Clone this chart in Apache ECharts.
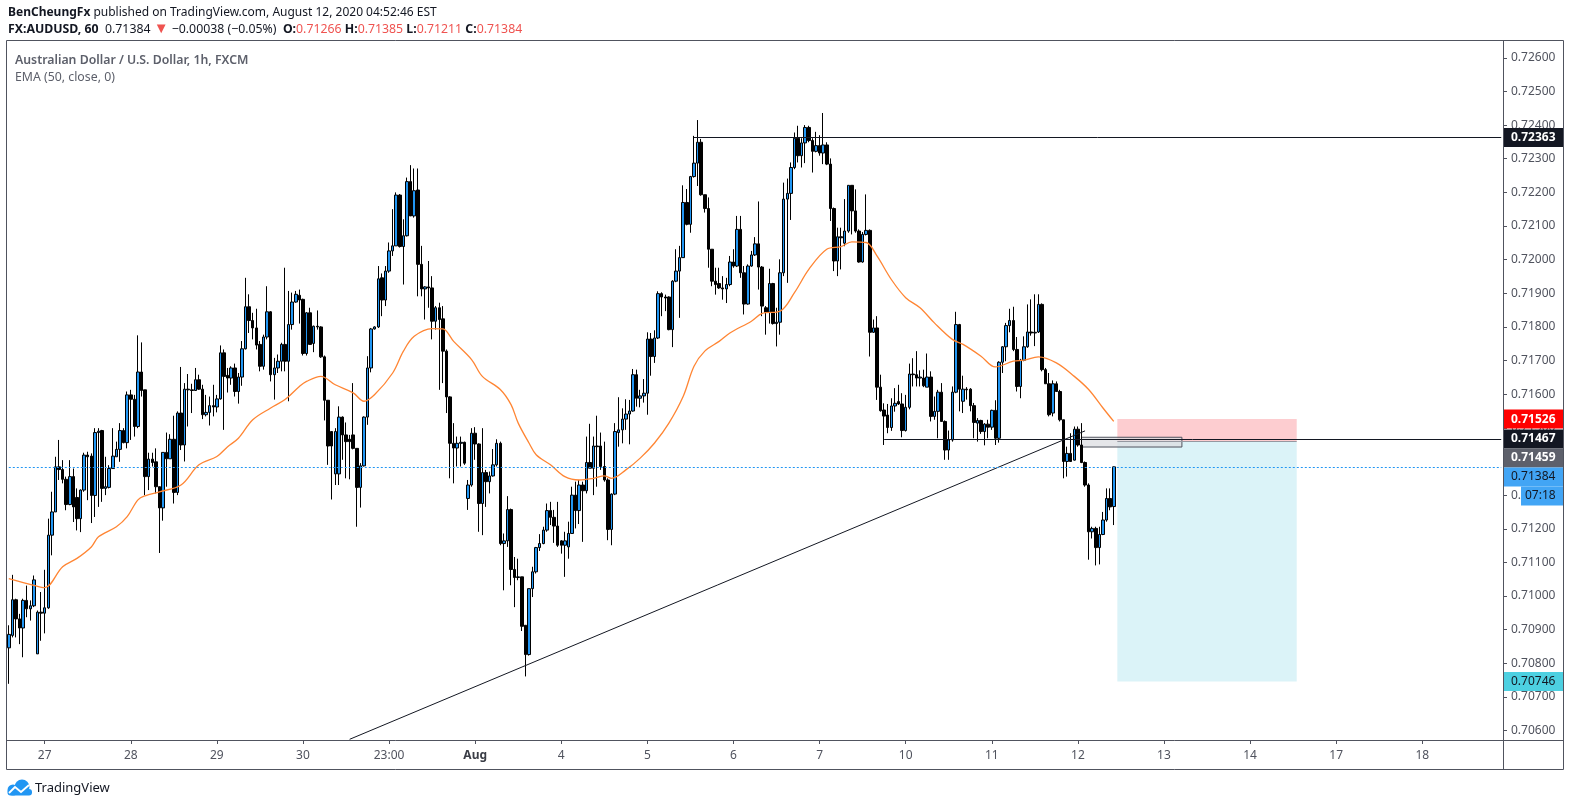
<!DOCTYPE html>
<html>
<head>
<meta charset="utf-8">
<title>AUDUSD 1h</title>
<script src="https://cdn.jsdelivr.net/npm/echarts@6/dist/echarts.min.js"></script>
<style>
html, body { margin: 0; padding: 0; background: #ffffff; }
#main { width: 1570px; height: 806px; }
</style>
</head>
<body>
<div id="main"></div>
<script>
// AUDUSD hourly candles (27 Jul - 12 Aug 2020)
var opens = [
.70846,.70883,.70989,.70932,.70905,.70987,.70962,.70971,.70828,.70952,
.70949,.70965,.71181,.71250,.71384,.71376,.71347,.71272,.71355,.71293,
.71230,.71315,.71419,.71416,.71299,.71486,.71492,.71320,.71323,.71379,
.71414,.71436,.71492,.71456,.71598,.71585,.71504,.71666,.71613,.71355,
.71407,.71399,.71325,.71262,.71427,.71408,.71466,.71308,.71544,.71449,
.71615,.71613,.71611,.71643,.71615,.71539,.71546,.71566,.71562,.71586,
.71723,.71656,.71648,.71678,.71608,.71651,.71735,.71860,.71819,.71797,
.71748,.71683,.71770,.71845,.71658,.71678,.71698,.71748,.71698,.71807,
.71874,.71894,.71882,.71721,.71842,.71751,.71802,.71800,.71711,.71582,
.71489,.71363,.71363,.71532,.71479,.71466,.71479,.71439,.71323,.71387,
.71532,.71678,.71794,.71800,.71946,.71880,.71966,.72026,.72041,.72192,
.72039,.72071,.72232,.72130,.72207,.71986,.71913,.71919,.71916,.71817,
.71857,.71824,.71728,.71592,.71454,.71440,.71454,.71457,.71290,.71330,
.71484,.71452,.71275,.71367,.71340,.71357,.71390,.71454,.71156,.71164,
.71257,.71079,.71055,.71057,.70913,.70826,.71022,.71072,.71144,.71156,
.71196,.71254,.71234,.71208,.71164,.71151,.71146,.71186,.71300,.71254,
.71330,.71313,.71397,.71380,.71446,.71446,.71385,.71345,.71198,.71303,
.71486,.71494,.71526,.71541,.71550,.71658,.71588,.71595,.71603,.71764,
.71712,.71767,.71899,.71889,.71889,.71792,.71936,.71966,.72006,.72170,
.72105,.72247,.72287,.72349,.72193,.72152,.72031,.71936,.71929,.71916,
.71913,.71926,.71993,.71981,.72090,.71961,.71868,.71981,.72014,.72047,
.71978,.71857,.71844,.71929,.71810,.71814,.71961,.72180,.72197,.72274,
.72361,.72309,.72347,.72393,.72354,.72322,.72339,.72317,.72341,.72284,
.72152,.71996,.72068,.72049,.72085,.72221,.72145,.72085,.71993,.72075,
.72087,.71784,.71797,.71621,.71553,.71538,.71501,.71565,.71578,.71571,
.71492,.71561,.71660,.71658,.71648,.71648,.71621,.71651,.71534,.71549,
.71606,.71519,.71434,.71464,.71606,.71807,.71579,.71615,.71615,.71566,
.71514,.71522,.71489,.71511,.71502,.71552,.71469,.71695,.71741,.71804,
.71819,.71733,.71623,.71701,.71741,.71785,.71782,.71785,.71867,.71673,
.71631,.71544,.71631,.71608,.71524,.71400,.71424,.71404,.71496,.71449,
.71397,.71330,.71191,.71201,.71144,.71183,.71226,.71290,.71266
];
var closes = [
.70886,.70989,.70932,.70905,.70987,.70962,.70971,.71048,.70952,.70949,
.70965,.71181,.71250,.71384,.71376,.71347,.71272,.71355,.71265,.71230,
.71315,.71419,.71414,.71299,.71486,.71490,.71320,.71325,.71379,.71416,
.71436,.71492,.71456,.71598,.71585,.71504,.71666,.71611,.71355,.71407,
.71397,.71325,.71262,.71427,.71408,.71466,.71308,.71544,.71449,.71615,
.71613,.71611,.71643,.71615,.71539,.71546,.71566,.71562,.71586,.71723,
.71653,.71648,.71678,.71608,.71651,.71735,.71860,.71819,.71797,.71746,
.71683,.71770,.71845,.71658,.71678,.71698,.71748,.71698,.71807,.71874,
.71897,.71880,.71721,.71842,.71748,.71802,.71800,.71711,.71582,.71446,
.71446,.71489,.71532,.71479,.71459,.71459,.71439,.71323,.71387,.71532,
.71678,.71794,.71800,.71943,.71880,.71966,.72026,.72041,.72192,.72039,
.72071,.72232,.72130,.72205,.71986,.71913,.71919,.71916,.71817,.71857,
.71822,.71728,.71592,.71454,.71440,.71454,.71457,.71395,.71330,.71484,
.71452,.71275,.71367,.71340,.71357,.71390,.71454,.71156,.71164,.71257,
.71079,.71055,.71057,.70910,.70826,.71022,.71072,.71144,.71156,.71196,
.71254,.71234,.71208,.71151,.71151,.71164,.71186,.71300,.71254,.71330,
.71313,.71397,.71380,.71446,.71444,.71385,.71345,.71198,.71303,.71489,
.71494,.71526,.71541,.71550,.71658,.71588,.71595,.71603,.71764,.71712,
.71767,.71899,.71889,.71886,.71792,.71936,.71966,.72006,.72170,.72105,
.72247,.72287,.72349,.72193,.72152,.72031,.71936,.71926,.71916,.71913,
.71926,.71993,.71981,.72090,.71961,.71868,.71981,.72014,.72047,.71978,
.71862,.71844,.71929,.71810,.71814,.71961,.72180,.72197,.72274,.72361,
.72309,.72347,.72393,.72354,.72322,.72339,.72317,.72341,.72284,.72152,
.71996,.72068,.72065,.72085,.72221,.72145,.72085,.71993,.72075,.72087,
.71784,.71797,.71621,.71551,.71535,.71501,.71565,.71573,.71571,.71492,
.71561,.71660,.71658,.71648,.71651,.71625,.71651,.71534,.71549,.71606,
.71519,.71434,.71464,.71606,.71807,.71615,.71615,.71613,.71566,.71516,
.71522,.71489,.71511,.71502,.71552,.71469,.71695,.71741,.71804,.71819,
.71733,.71623,.71701,.71741,.71785,.71782,.71784,.71867,.71673,.71631,
.71539,.71631,.71608,.71524,.71400,.71424,.71400,.71496,.71449,.71397,
.71330,.71191,.71201,.71144,.71183,.71226,.71290,.71265,.71384
];
var highs = [
.70913,.71063,.70992,.70947,.70992,.71031,.70987,.71061,.70957,.71012,
.71078,.71230,.71310,.71414,.71464,.71404,.71355,.71404,.71379,.71320,
.71317,.71426,.71429,.71424,.71499,.71499,.71494,.71414,.71389,.71499,
.71459,.71514,.71499,.71608,.71613,.71598,.71775,.71754,.71613,.71426,
.71426,.71439,.71325,.71427,.71486,.71481,.71536,.71549,.71681,.71633,
.71660,.71631,.71678,.71658,.71628,.71598,.71593,.71628,.71598,.71745,
.71733,.71678,.71683,.71691,.71663,.71758,.71946,.71897,.71842,.71854,
.71758,.71777,.71921,.71847,.71708,.71718,.71753,.71976,.71907,.71902,
.71907,.71911,.71884,.71844,.71857,.71804,.71849,.71802,.71715,.71582,
.71489,.71499,.71564,.71534,.71516,.71479,.71633,.71439,.71395,.71534,
.71713,.71797,.71802,.71981,.71959,.71981,.72051,.72150,.72200,.72195,
.72120,.72244,.72281,.72271,.72271,.72041,.71921,.71996,.71951,.71862,
.71872,.71862,.71733,.71594,.71514,.71474,.71474,.71459,.71345,.71499,
.71502,.71454,.71499,.71375,.71370,.71437,.71466,.71459,.71186,.71297,
.71260,.71116,.71111,.71057,.70913,.71022,.71087,.71146,.71184,.71206,
.71275,.71280,.71256,.71280,.71166,.71191,.71221,.71325,.71340,.71345,
.71340,.71474,.71512,.71474,.71536,.71486,.71459,.71350,.71305,.71514,
.71591,.71558,.71585,.71583,.71675,.71673,.71613,.71645,.71784,.71782,
.71790,.71906,.71903,.71896,.71891,.71939,.72031,.72041,.72221,.72210,
.72249,.72368,.72415,.72359,.72193,.72185,.72031,.71976,.71976,.71951,
.71946,.72011,.72031,.72130,.72130,.71981,.71986,.72026,.72067,.72173,
.71981,.71862,.71973,.71931,.71857,.72001,.72229,.72241,.72289,.72378,
.72398,.72361,.72400,.72398,.72361,.72380,.72370,.72436,.72349,.72301,
.72155,.72095,.72095,.72180,.72221,.72221,.72209,.72090,.72082,.72194,
.72090,.71822,.71832,.71658,.71573,.71571,.71588,.71618,.71628,.71603,
.71598,.71691,.71707,.71728,.71671,.71673,.71721,.71668,.71593,.71613,
.71633,.71522,.71492,.71623,.71845,.71809,.71655,.71621,.71618,.71574,
.71529,.71524,.71514,.71524,.71554,.71582,.71698,.71743,.71812,.71854,
.71860,.71770,.71705,.71772,.71867,.71882,.71897,.71897,.71870,.71678,
.71663,.71641,.71638,.71613,.71524,.71444,.71484,.71504,.71504,.71514,
.71400,.71335,.71206,.71206,.71206,.71250,.71320,.71320,.71385
];
var lows = [
.70739,.70877,.70877,.70857,.70818,.70937,.70927,.70967,.70828,.70867,
.70889,.70962,.71121,.71250,.71345,.71335,.71255,.71270,.71220,.71195,
.71190,.71310,.71285,.71217,.71235,.71265,.71280,.71300,.71320,.71379,
.71414,.71399,.71454,.71439,.71464,.71474,.71499,.71593,.71300,.71315,
.71385,.71305,.71128,.71224,.71325,.71408,.71275,.71300,.71434,.71400,
.71504,.71544,.71610,.71613,.71526,.71534,.71507,.71534,.71546,.71584,
.71494,.71605,.71628,.71593,.71572,.71625,.71733,.71782,.71763,.71733,
.71668,.71673,.71763,.71638,.71584,.71663,.71668,.71668,.71579,.71792,
.71872,.71810,.71715,.71715,.71748,.71725,.71792,.71708,.71522,.71390,
.71287,.71330,.71330,.71405,.71350,.71347,.71436,.71206,.71263,.71385,
.71509,.71665,.71792,.71797,.71832,.71862,.71961,.72011,.72041,.72036,
.71926,.72069,.72130,.72125,.71891,.71891,.71822,.71857,.71763,.71792,
.71613,.71633,.71544,.71350,.71335,.71385,.71385,.71390,.71256,.71325,
.71405,.71191,.71181,.71265,.71305,.71355,.71385,.71151,.71017,.71146,
.71032,.70967,.71047,.70896,.70761,.70823,.70997,.71067,.71134,.71154,
.71191,.71211,.71158,.71146,.71126,.71057,.71111,.71186,.71201,.71214,
.71161,.71305,.71380,.71300,.71325,.71375,.71340,.71166,.71151,.71300,
.71444,.71454,.71494,.71451,.71548,.71563,.71561,.71575,.71539,.71655,
.71693,.71764,.71832,.71847,.71790,.71740,.71933,.71827,.72006,.72102,
.72080,.72244,.72219,.72190,.72140,.71976,.71921,.71896,.71913,.71881,
.71871,.71921,.71976,.71978,.71946,.71837,.71866,.71979,.72011,.71911,
.71832,.71777,.71810,.71807,.71742,.71777,.71951,.71931,.72118,.72269,
.72289,.72274,.72287,.72349,.72259,.72319,.72309,.72284,.72281,.72115,
.71966,.71951,.71971,.72040,.72080,.72075,.72080,.71991,.71991,.72072,
.71712,.71782,.71583,.71548,.71449,.71484,.71491,.71548,.71568,.71472,
.71489,.71555,.71623,.71623,.71623,.71621,.71621,.71519,.71524,.71469,
.71519,.71405,.71405,.71459,.71603,.71549,.71544,.71584,.71549,.71469,
.71459,.71482,.71448,.71469,.71494,.71449,.71456,.71663,.71698,.71784,
.71728,.71608,.71588,.71698,.71738,.71774,.71743,.71782,.71668,.71631,
.71534,.71534,.71608,.71519,.71350,.71355,.71400,.71403,.71444,.71395,
.71325,.71108,.71171,.71091,.71094,.71181,.71221,.71255,.71211
];

// EMA(50) as drawn, read at these candle slots
var emaSlots = [0,7,10,15,19,23,25,30,33,36,38,42,48,53,58,61,64,68,73,77,
81,83,87,91,96,99,102,107,110,113,118,121,124,129,132,137,140,142,145,147,
151,155,159,163,166,168,172,176,180,184,188,191,194,198,201,207,210,215,219,223,
228,232,235,239,242,246,250,254,258,263,266,271,275,280,283,287,292,297,301,305,308];
var emaValues = [.71052,.71032,.71025,.71087,.71112,.71146,.71176,.71206,.71236,.71286,
.71298,.71310,.71330,.71390,.71415,.71444,.71469,.71524,.71559,.71584,
.71623,.71638,.71653,.71628,.71604,.71579,.71599,.71663,.71728,.71772,
.71795,.71794,.71757,.71703,.71653,.71614,.71569,.71514,.71455,.71420,
.71390,.71355,.71345,.71350,.71357,.71350,.71375,.71410,.71455,.71514,
.71594,.71683,.71728,.71757,.71782,.71817,.71840,.71847,.71902,.71971,
.72031,.72039,.72053,.72051,.72011,.71941,.71887,.71857,.71812,.71763,
.71748,.71713,.71681,.71698,.71701,.71711,.71693,.71653,.71614,.71559,.71519];

// time axis labels (one per trading day)
var dayLabels = ['27','28','29','30','23:00','Aug','4','5','6','7','10','11','12','13','14','17','18'];
var yTicks = [0.706,0.707,0.708,0.709,0.710,0.711,0.712,0.713,0.714,0.715,0.716,
0.717,0.718,0.719,0.720,0.721,0.722,0.723,0.724,0.725,0.726];

// drawings
var resistance = 0.72363, resistanceFrom = 191;
var support = 0.71467, supportFrom = 244;
var trendStart = [95, 0.70574], trendEnd = [300, 0.71491];
var stopLoss = 0.71526, entry = 0.71459, target = 0.70746;
var positionFrom = 309, positionTo = 359;
var boxFrom = 299, boxTo = 327, boxLow = 0.71443, boxHigh = 0.71472;
var countdown = '07:18';

var slotCount = 417, firstLabelSlot = 10, slotsPerDay = 24;
var FONT = '"Noto Sans", "Liberation Sans", sans-serif';

var categories = [];
var slotText = {};
for (var i = 0; i < slotCount; i++) categories.push(String(i));
dayLabels.forEach(function (t, k) { slotText[firstLabelSlot + slotsPerDay * k] = t; });

var candles = opens.map(function (o, i) { return [o, closes[i], lows[i], highs[i]]; });
var ema = emaSlots.map(function (s, i) { return [s, emaValues[i]]; });
var last = candles.length - 1;
var lastClose = closes[last];

var chart = echarts.init(document.getElementById('main'));

function showSlot(idx) { return slotText[idx] !== undefined; }

chart.setOption({
  animation: false,
  backgroundColor: '#ffffff',
  grid: { left: 7, right: 67, top: 40, bottom: 66 },
  xAxis: {
    type: 'category',
    data: categories,
    boundaryGap: true,
    axisLine: { show: false },
    axisTick: { show: true, interval: showSlot, alignWithLabel: true, length: 4, lineStyle: { color: '#50535e' } },
    axisLabel: {
      interval: showSlot,
      margin: 10,
      color: '#50535e',
      fontFamily: FONT,
      fontSize: 12,
      formatter: function (v, idx) {
        var t = slotText[idx] || '';
        return t === 'Aug' ? '{b|Aug}' : t;
      },
      rich: { b: { fontWeight: 'bold', color: '#3a3d46', fontFamily: FONT, fontSize: 12 } }
    },
    splitLine: { show: false }
  },
  yAxis: {
    type: 'value',
    position: 'right',
    min: 0.70572,
    max: 0.72653,
    axisLine: { show: false },
    splitLine: { show: false },
    axisTick: { show: true, customValues: yTicks, length: 4, lineStyle: { color: '#50535e' } },
    axisLabel: {
      customValues: yTicks,
      margin: 8,
      color: '#50535e',
      fontFamily: FONT,
      fontSize: 12,
      formatter: function (v) { return v.toFixed(5); }
    }
  },
  series: [
    {
      type: 'candlestick',
      data: candles,
      barWidth: 3,
      itemStyle: {
        color: '#2196f3',
        color0: '#000000',
        borderColor: '#000000',
        borderColor0: '#000000',
        borderWidth: 1
      },
      markArea: {
        silent: true,
        data: [
          [{ xAxis: positionFrom, yAxis: entry, itemStyle: { color: '#fdcdd0' } }, { xAxis: positionTo, yAxis: stopLoss }],
          [{ xAxis: positionFrom, yAxis: target, itemStyle: { color: '#dbf3f8' } }, { xAxis: positionTo, yAxis: entry }],
          [{ xAxis: boxFrom, yAxis: boxLow, itemStyle: { color: 'rgba(220,221,226,0.75)', borderColor: '#50535e', borderWidth: 1 } }, { xAxis: boxTo, yAxis: boxHigh }]
        ]
      },
      markLine: {
        silent: true,
        symbol: ['none', 'none'],
        label: { show: false },
        data: [
          [{ coord: [resistanceFrom, resistance], lineStyle: { color: '#131722', width: 1, type: 'solid' } }, { coord: [slotCount - 1, resistance] }],
          [{ coord: [supportFrom, support], lineStyle: { color: '#131722', width: 1, type: 'solid' } }, { coord: [slotCount - 1, support] }],
          [{ coord: trendStart, lineStyle: { color: '#131722', width: 1, type: 'solid' } }, { coord: trendEnd }],
          [{ coord: [positionFrom, entry], lineStyle: { color: '#9598a1', width: 1, type: 'solid' } }, { coord: [positionTo, entry] }],
          [{ coord: [0, lastClose], lineStyle: { color: '#2196f3', width: 1, type: [2, 2] } }, { coord: [slotCount - 1, lastClose] }]
        ]
      }
    },
    {
      type: 'line',
      name: 'EMA (50, close, 0)',
      data: ema,
      smooth: 0.35,
      symbol: 'none',
      lineStyle: { color: '#ff8533', width: 1.3 }
    }
  ]
});

// price tags on the right scale, stacked like the platform does
function yOf(p) { return chart.convertToPixel({ gridIndex: 0 }, [0, p])[1]; }
var tagH = 19, tagX = 1503, tagW = 60;
var tags = [
  { price: resistance, bg: '#131722', fg: '#ffffff', bold: true },
  { price: stopLoss, bg: '#ff0000', fg: '#ffffff', bold: true },
  { price: support, bg: '#131722', fg: '#ffffff', bold: true },
  { price: entry, bg: '#5d606b', fg: '#ffffff', bold: true },
  { price: lastClose, bg: '#42a5f5', fg: '#131722', bold: false, isLast: true },
  { price: target, bg: '#4dd0e1', fg: '#131722', bold: false }
];
tags.forEach(function (t) { t.y = yOf(t.price); });
tags.sort(function (a, b) { return a.y - b.y; });

var graphics = [];
var prevBottom = -1000;
tags.forEach(function (t) {
  var top = Math.max(t.y - tagH / 2, prevBottom);
  prevBottom = top + tagH;
  graphics.push({ type: 'rect', z: 50, shape: { x: tagX, y: top, width: tagW, height: tagH }, style: { fill: t.bg } });
  graphics.push({ type: 'text', z: 51, x: 1511, y: top + tagH / 2, style: {
    text: t.price.toFixed(5), fill: t.fg, fontFamily: FONT, fontSize: 12,
    fontWeight: t.bold ? 'bold' : 'normal', verticalAlign: 'middle' } });
  if (t.isLast) {
    graphics.push({ type: 'rect', z: 50, shape: { x: 1521, y: prevBottom, width: 42, height: tagH }, style: { fill: t.bg } });
    graphics.push({ type: 'text', z: 51, x: 1525, y: prevBottom + tagH / 2, style: {
      text: countdown, fill: t.fg, fontFamily: FONT, fontSize: 12, verticalAlign: 'middle' } });
  }
});

// frame
var frameColor = '#50535e';
graphics.push({ type: 'rect', z: 60, shape: { x: 6.5, y: 40.5, width: 1557, height: 729 }, style: { fill: null, stroke: frameColor, lineWidth: 1 } });
graphics.push({ type: 'line', z: 60, shape: { x1: 6.5, y1: 740.5, x2: 1563.5, y2: 740.5 }, style: { stroke: frameColor, lineWidth: 1 } });
graphics.push({ type: 'line', z: 60, shape: { x1: 1503.5, y1: 40.5, x2: 1503.5, y2: 769.5 }, style: { stroke: frameColor, lineWidth: 1 } });

// header
var red = '#ef5350';
graphics.push({ type: 'text', z: 70, x: 8, y: 13, style: {
  text: '{b|BenCheungFx} published on TradingView.com, August 12, 2020 04:52:46 EST',
  fontFamily: FONT, fontSize: 12, fill: '#131722', verticalAlign: 'middle',
  rich: { b: { fontWeight: 'bold', fontFamily: FONT, fontSize: 12, fill: '#131722' } } } });
graphics.push({ type: 'text', z: 70, x: 8, y: 29, style: {
  text: '{b|FX:AUDUSD, 60}  ' + lastClose.toFixed(5) + ' {t|▼} \u22120.00038 (\u22120.05%)  {b|O:}{r|' + opens[last].toFixed(5) +
        '} {b|H:}{r|' + highs[last].toFixed(5) + '} {b|L:}{r|' + lows[last].toFixed(5) + '} {b|C:}{r|' + closes[last].toFixed(5) + '}',
  fontFamily: FONT, fontSize: 12.3, fill: '#131722', verticalAlign: 'middle',
  rich: {
    b: { fontWeight: 'bold', fontFamily: FONT, fontSize: 12.3, fill: '#131722' },
    r: { fontFamily: FONT, fontSize: 12.3, fill: red },
    t: { fontFamily: FONT, fontSize: 15, fill: red }
  } } });
graphics.push({ type: 'text', z: 70, x: 15, y: 60, style: {
  text: 'Australian Dollar / U.S. Dollar, 1h, FXCM', fontFamily: FONT, fontSize: 12.3, fontWeight: 600,
  fill: '#5d606b', verticalAlign: 'middle' } });
graphics.push({ type: 'text', z: 70, x: 15, y: 77, style: {
  text: 'EMA (50, close, 0)', fontFamily: FONT, fontSize: 12.3, fill: '#5d606b', verticalAlign: 'middle' } });

// footer logo
graphics.push({ type: 'circle', z: 70, shape: { cx: 13, cy: 790, r: 5.5 }, style: { fill: '#2196f3' } });
graphics.push({ type: 'circle', z: 70, shape: { cx: 22, cy: 787, r: 7.5 }, style: { fill: '#2196f3' } });
graphics.push({ type: 'rect', z: 70, shape: { x: 7.5, y: 789, width: 24.5, height: 6.5, r: 3 }, style: { fill: '#2196f3' } });
graphics.push({ type: 'polyline', z: 71, shape: { points: [[9, 793], [15, 787], [21, 792], [29, 785]] }, style: { stroke: '#ffffff', lineWidth: 1.8, fill: null } });
graphics.push({ type: 'text', z: 70, x: 35, y: 788, style: {
  text: 'TradingView', fontFamily: FONT, fontSize: 13, fill: '#131722', verticalAlign: 'middle' } });

chart.setOption({ graphic: graphics });
</script>
</body>
</html>
